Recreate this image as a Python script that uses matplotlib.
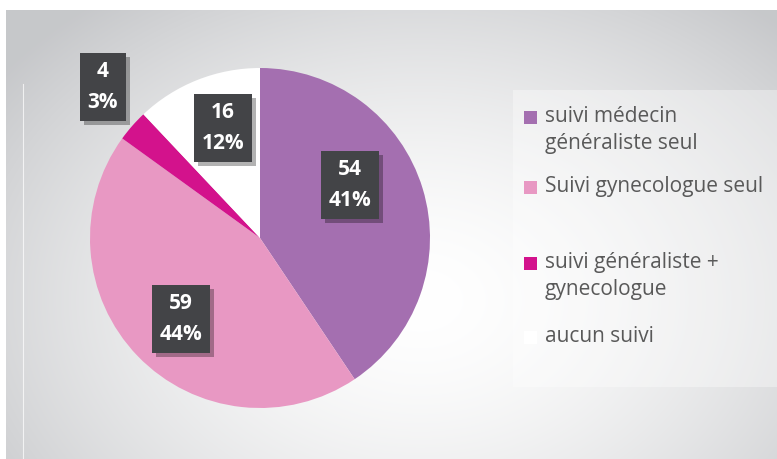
import numpy as np
import matplotlib.pyplot as plt
import matplotlib.patheffects as pe
from matplotlib.patches import Rectangle

# données
categories = ['suivi médecin\ngénéraliste seul', 'Suivi gynecologue seul',
              'suivi généraliste +\ngynecologue', 'aucun suivi']
valeurs = [54, 59, 4, 16]
pourcents = ['41%', '44%', '3%', '12%']
couleurs = ['#A46FB0', '#E898C3', '#D3128C', '#FFFFFF']

# positions des étiquettes (pixels, origine en bas à gauche)
pos_etiquettes = [(350, 274), (181, 140), (103, 372), (223, 331)]

W, H = 777, 459
fig = plt.figure(figsize=(W / 100, H / 100), dpi=100)
fig.patch.set_facecolor('white')

# fond dégradé radial
bg = fig.add_axes([0, 0, 1, 1])
yy, xx = np.mgrid[0:H, 0:W]
d = np.sqrt(((xx - 420) / 520.0) ** 2 + ((yy - 300) / 380.0) ** 2)
d = np.clip(d, 0, 1)
c_in = np.array([1.0, 1.0, 1.0])
c_out = np.array([0.78, 0.785, 0.795])
t = d[..., None] ** 1.6
img = c_in[None, None, :] * (1 - t) + c_out[None, None, :] * t
img[:10, :, :] = 1.0
img[:, :6, :] = 1.0
bg.imshow(img, extent=[0, W, 0, H], origin='upper', aspect='auto')
bg.add_patch(Rectangle((513, 72), 264, 297, facecolor='white', alpha=0.35, lw=0))
bg.plot([23, 23], [0, 375], color='white', lw=0.8, alpha=0.7)
bg.set_xlim(0, W)
bg.set_ylim(0, H)
bg.axis('off')

# camembert
ax = fig.add_axes([90 / W, 51 / H, 340 / W, 340 / H])
ax.pie(valeurs, colors=couleurs, startangle=90, counterclock=False,
       wedgeprops=dict(linewidth=0))
ax.set_xlim(-1, 1)
ax.set_ylim(-1, 1)
ax.set_aspect('equal')

# calque du dessus pour les étiquettes
top = fig.add_axes([0, 0, 1, 1])
top.set_xlim(0, W)
top.set_ylim(0, H)
top.axis('off')
top.patch.set_alpha(0)

for v, p, (x, y) in zip(valeurs, pourcents, pos_etiquettes):
    lbl = top.text(x, y, f'{v}\n{p}', ha='center', va='center', fontsize=15,
                   fontweight='bold', color='white', family='Open Sans', linespacing=1.6,
                   bbox=dict(boxstyle='square,pad=0.38', fc='#434447', ec='none'))
    lbl.get_bbox_patch().set_path_effects(
        [pe.SimplePatchShadow(offset=(3, -3), shadow_rgbFace='black', alpha=0.3), pe.Normal()])

# légende
ly = [H - 124, H - 194, H - 270, H - 344]
for lab, c, y in zip(categories, couleurs, ly):
    top.add_patch(Rectangle((524, y), 13, 13, facecolor=c, lw=0))
    top.text(545, y + 18, lab, ha='left', va='top', fontsize=15, color='#595959',
             family='Open Sans', linespacing=1.4)

fig.savefig('out.png', dpi=100)
